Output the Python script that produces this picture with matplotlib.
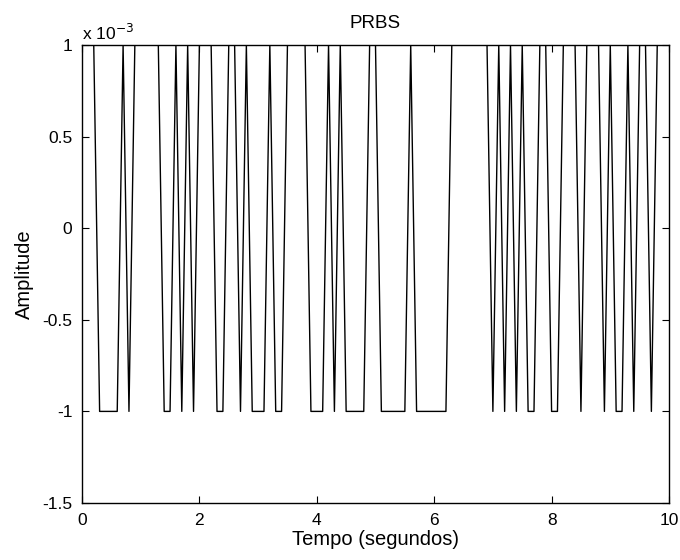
import matplotlib
matplotlib.use("Agg")
import matplotlib.pyplot as plt
import numpy as np

# PRBS read off the scan: sampled every 0.1 s, starts high,
# run lengths in samples alternating high / low
dt = 0.1
amplitude = 1e-3
run_lengths = [3, 4, 1, 1, 5, 2, 1, 1, 1, 1, 3, 2, 2, 1, 1, 3, 1, 2, 4, 3,
               1, 1, 1, 4, 2, 5, 1, 6, 7, 1, 1, 1, 1, 1, 1, 2, 2, 2, 3, 1,
               3, 1, 1, 2, 1, 1, 2, 1, 3]

x_ticks = [0, 2, 4, 6, 8, 10]
y_ticks = [-1.5, -1, -0.5, 0, 0.5, 1]

levels = []
sign = 1
for n in run_lengths:
    levels += [sign * amplitude] * n
    sign = -sign
levels = np.array(levels)
t = np.arange(len(levels)) * dt

plt.rcParams['font.family'] = ['Liberation Sans', 'DejaVu Sans']
plt.rcParams['axes.unicode_minus'] = False

fig = plt.figure(figsize=(6.8, 5.6), dpi=100)
ax = fig.add_axes([0.1206, 0.1018, 0.8632, 0.8178])

ax.plot(t, levels, color='black', linewidth=1.0)

ax.set_xlim(0, 10)
ax.set_ylim(-1.5e-3, 1e-3)
ax.set_xticks(x_ticks)
ax.set_yticks([v * 1e-3 for v in y_ticks])
ax.set_xticklabels([str(v) for v in x_ticks])
ax.set_yticklabels(['%g' % v for v in y_ticks])
ax.tick_params(direction='in', length=5, width=0.8, labelsize=12.5,
               top=True, right=True, pad=7)
for s in ax.spines.values():
    s.set_linewidth(1.0)

ax.text(0.0, 1.005, 'x 10$^{-3}$', transform=ax.transAxes,
        fontsize=12.5, ha='left', va='bottom')
ax.set_title('PRBS', fontsize=13.5, pad=12)
ax.set_xlabel('Tempo (segundos)', fontsize=14.5, labelpad=2)
ax.set_ylabel('Amplitude', fontsize=14.5, labelpad=6)

fig.savefig('out.png', dpi=100)
